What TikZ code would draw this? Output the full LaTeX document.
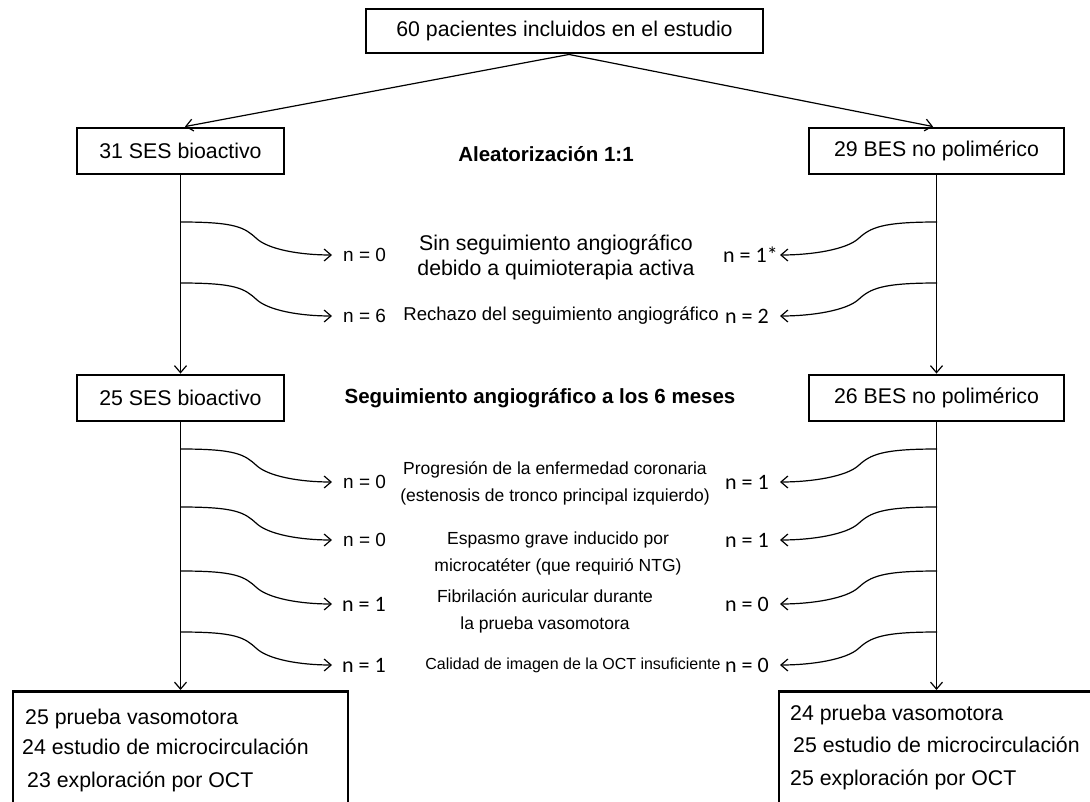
\documentclass[tikz,border=0pt]{standalone}
\usepackage{fontspec}
\setmainfont{Liberation Sans}
\newfontfamily\calib{Carlito}
\usetikzlibrary{arrows.meta,calc}
\tikzset{
  box/.style={draw, line width=2.9pt, inner sep=0pt, font=\fontsize{21.3pt}{26pt}\selectfont},
  conn/.style={line width=1.2pt, -{Straight Barb[length=7pt,width=12pt]}},
  big/.style={inner sep=0pt, font=\fontsize{21.3pt}{25pt}\selectfont},
  head/.style={inner sep=0pt, font=\fontsize{20.5pt}{24pt}\selectfont\bfseries},
  midA/.style={inner sep=0pt, font=\fontsize{18.6pt}{22pt}\selectfont},
  midB/.style={inner sep=0pt, align=center, font=\fontsize{17.5pt}{27pt}\selectfont},
  midC/.style={inner sep=0pt, font=\fontsize{16pt}{20pt}\selectfont},
  nh/.style={inner sep=0pt, anchor=west, font=\fontsize{19pt}{22pt}\selectfont},
  nc/.style={inner sep=0pt, anchor=west, font=\fontsize{22pt}{25pt}\calib},
  ltxt/.style={inner sep=0pt, anchor=base west, font=\fontsize{21.3pt}{26pt}\selectfont}
}
\begin{document}
\begin{tikzpicture}[x=1pt,y=-1pt]
\useasboundingbox (0,0) rectangle (1090,801);

% boxes
\node[box, minimum width=397pt, minimum height=44pt] (top) at (564.5,31) {60 pacientes incluidos en el estudio};
\node[box, minimum width=207pt, minimum height=46pt] (b1L) at (180.5,151) {31 SES bioactivo};
\node[box, minimum width=255pt, minimum height=46pt] (b1R) at (936.5,151) {29 BES no polimérico};
\node[box, minimum width=207pt, minimum height=46pt] (b2L) at (180.5,398) {25 SES bioactivo};
\node[box, minimum width=255pt, minimum height=46pt] (b2R) at (936.5,398) {26 BES no polimérico};
\node[box, minimum width=335pt, minimum height=150pt, anchor=north] (b3L) at (180.5,690) {};
\node[box, minimum width=316pt, minimum height=150pt, anchor=north] (b3R) at (937,690) {};

% bottom box texts
\node[ltxt] (l1) at (25,724.5) {25 prueba vasomotora};
\node[ltxt] (l2) at (22,754.5) {24 estudio de microcirculación};
\node[ltxt] (l3) at (27,787.5) {23 exploración por OCT};
\node[ltxt] (r1) at (790,720.5) {24 prueba vasomotora};
\node[ltxt] (r2) at (793,752.5) {25 estudio de microcirculación};
\node[ltxt] (r3) at (790,785.5) {25 exploración por OCT};

% headings
\node[head] (alea) at (546,154) {Aleatorización 1:1};
\node[head] (seg) at (540,398) {Seguimiento angiográfico a los 6 meses};

% middle texts
\node[big, align=center] (t1) at (556,257.5) {Sin seguimiento angiográfico\\debido a quimioterapia activa};
\node[midA] (t2) at (561,316) {Rechazo del seguimiento angiográfico};
\node[midB] (t3) at (555,483.5) {Progresión de la enfermedad coronaria\\(estenosis de tronco principal izquierdo)};
\node[midB] (t4) at (558,553.5) {Espasmo grave inducido por\\microcatéter (que requirió NTG)};
\node[midB] (t5) at (545,611.5) {Fibrilación auricular durante\\la prueba vasomotora};
\node[midC] (t6) at (573,665) {Calidad de imagen de la OCT insuficiente};

% main connectors
\draw[conn] ([xshift=4.5pt]top.south) -- ([xshift=4.5pt]b1L.north);
\draw[conn] ([xshift=4.5pt]top.south) -- ([xshift=-3.5pt]b1R.north);
\draw[conn] (b1L.south) -- (b2L.north);
\draw[conn] (b1R.south) -- (b2R.north);
\draw[conn] (b2L.south) -- (b3L.north);
\draw[conn] (b2R.south) -- (b2R.south |- b3R.north);

% side exits
\foreach \i/\yy in {1/255,2/316,3/482,4/540,5/604,6/665} {
  \coordinate (sL\i) at (181,\yy-33);
  \coordinate (eL\i) at (332,\yy);
  \coordinate (sR\i) at (937,\yy-33);
  \coordinate (eR\i) at (780,\yy);
  \draw[conn] (sL\i) .. controls +(55,0) and +(-12,-11) .. ($(sL\i)!.5!(eL\i)$)
              .. controls +(12,11) and +(-32,0) .. (eL\i);
  \draw[conn] (sR\i) .. controls +(-55,0) and +(12,-11) .. ($(sR\i)!.5!(eR\i)$)
              .. controls +(-12,11) and +(32,0) .. (eR\i);
}

% n labels
\node[nh] (nL1) at ([xshift=11pt]eL1) {n = 0};
\node[nh] (nL2) at ([xshift=11pt]eL2) {n = 6};
\node[nh] (nL3) at ([xshift=11pt]eL3) {n = 0};
\node[nh] (nL4) at ([xshift=11pt]eL4) {n = 0};
\node[nc] (nL5) at ([xshift=10pt]eL5) {n = 1};
\node[nc] (nL6) at ([xshift=10pt]eL6) {n = 1};
\node[nc] (nR1) at ([xshift=-57pt]eR1) {n = 1*};
\node[nc] (nR2) at ([xshift=-55pt]eR2) {n = 2};
\node[nc] (nR3) at ([xshift=-55pt]eR3) {n = 1};
\node[nc] (nR4) at ([xshift=-55pt]eR4) {n = 1};
\node[nc] (nR5) at ([xshift=-55pt]eR5) {n = 0};
\node[nc] (nR6) at ([xshift=-55pt]eR6) {n = 0};
\end{tikzpicture}
\end{document}
